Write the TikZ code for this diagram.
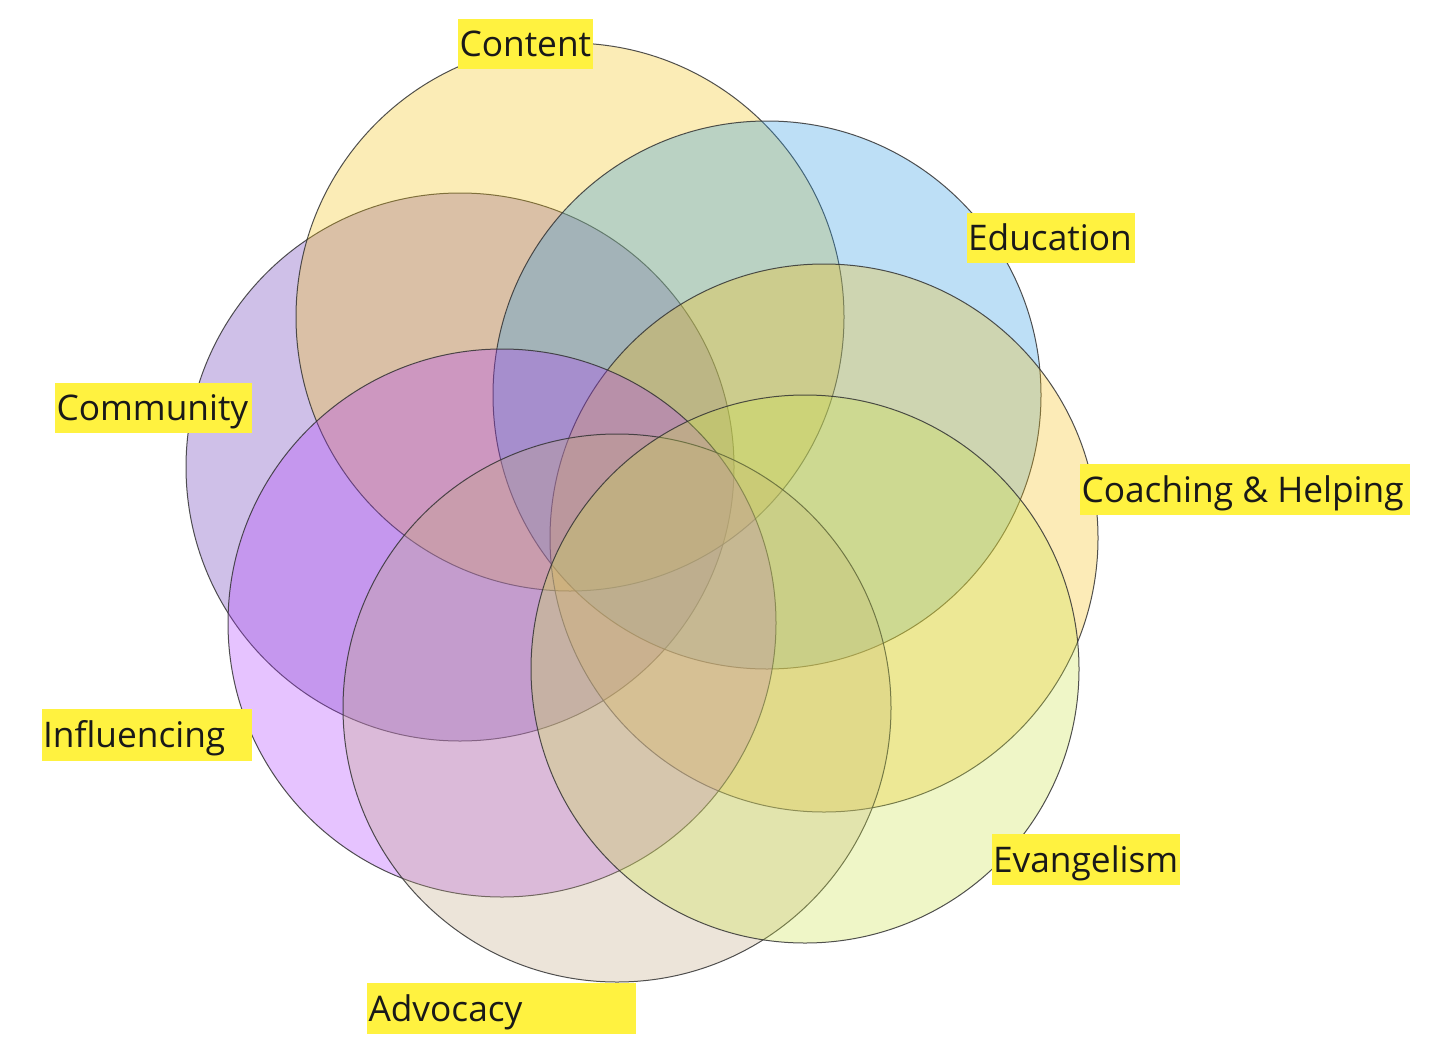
\documentclass[tikz,border=0pt]{standalone}
\usepackage{fontspec}
\setmainfont{Open Sans}
\usetikzlibrary{calc}
\definecolor{cContent}{RGB}{245,195,15}
\definecolor{cEducation}{RGB}{38,152,228}
\definecolor{cCoaching}{RGB}{248,192,18}
\definecolor{cEvangelism}{RGB}{205,228,72}
\definecolor{cAdvocacy}{RGB}{195,168,132}
\definecolor{cInfluencing}{RGB}{175,58,255}
\definecolor{cCommunity}{RGB}{98,48,182}
\definecolor{hlyellow}{RGB}{255,242,64}
\definecolor{txt}{RGB}{25,25,25}
\tikzset{
  ven/.style={circle, inner sep=0pt, outer sep=0pt, minimum size=548pt,
    fill opacity=0.3, draw=black!80, draw opacity=0.85, line width=1pt},
  labelbox/.style={rectangle, fill=hlyellow, inner sep=0pt, outer sep=0pt, anchor=north west},
  labeltext/.style={inner sep=0pt, outer sep=0pt, anchor=base west, text=txt,
    font=\fontsize{35.3}{40}\selectfont}
}
\begin{document}
\begin{tikzpicture}[x=1pt,y=-1pt]
\useasboundingbox (0,0) rectangle (1456,1057);
\fill[white] (0,0) rectangle (1456,1057);
% circles
\node[ven, fill=cCommunity]   (ccommunity)   at (460,467) {};
\node[ven, fill=cContent]     (ccontent)     at (570,317) {};
\node[ven, fill=cEducation]   (ceducation)   at (767,395) {};
\node[ven, fill=cCoaching]    (ccoaching)    at (824,538) {};
\node[ven, fill=cInfluencing] (cinfluencing) at (502,623) {};
\node[ven, fill=cAdvocacy]    (cadvocacy)    at (617,708) {};
\node[ven, fill=cEvangelism]  (cevangelism)  at (805,669) {};
% labels
\node[labelbox, minimum width=135pt, minimum height=50pt] (bcontent) at (458,19) {};
\node[labeltext] (lcontent) at ($(bcontent.west)+(1.5,12.5)$) {Content};
\node[labelbox, minimum width=168pt, minimum height=50pt] (beducation) at (967,213) {};
\node[labeltext] (leducation) at ($(beducation.west)+(1,12.5)$) {Education};
\node[labelbox, minimum width=330pt, minimum height=51pt] (bcoaching) at (1080,464) {};
\node[labeltext] (lcoaching) at ($(bcoaching.west)+(1.5,12.5)$) {Coaching \& Helping};
\node[labelbox, minimum width=197pt, minimum height=50pt] (bcommunity) at (55,383) {};
\node[labeltext] (lcommunity) at ($(bcommunity.west)+(1.5,12.5)$) {Community};
\node[labelbox, minimum width=210pt, minimum height=52pt] (binfluencing) at (42,709) {};
\node[labeltext] (linfluencing) at ($(binfluencing.west)+(1,12.5)$) {Influencing};
\node[labelbox, minimum width=269pt, minimum height=51pt] (badvocacy) at (367,983) {};
\node[labeltext] (ladvocacy) at ($(badvocacy.west)+(1.5,12.5)$) {Advocacy};
\node[labelbox, minimum width=188pt, minimum height=51pt] (bevangelism) at (992,834) {};
\node[labeltext] (levangelism) at ($(bevangelism.west)+(1,12.5)$) {Evangelism};
\end{tikzpicture}
\end{document}
